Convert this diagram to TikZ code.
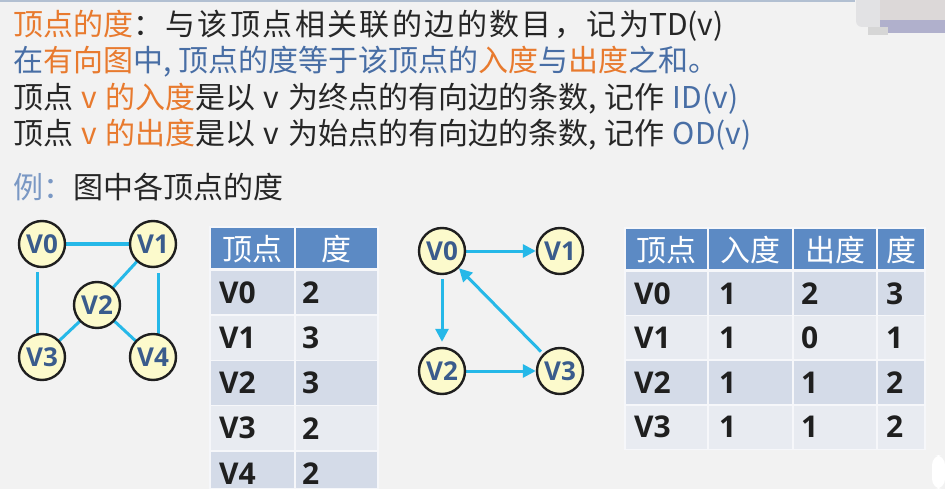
\documentclass[tikz,border=0pt]{standalone}
\usepackage{fontspec}
\setmainfont{Noto Sans CJK SC}
\newfontfamily\cjkwide[LetterSpace=8]{Noto Sans CJK SC}
\newfontfamily\latsans{Open Sans}
\usetikzlibrary{arrows.meta}
\definecolor{bgc}{RGB}{242,242,242}
\definecolor{topline}{RGB}{178,192,210}
\definecolor{org}{RGB}{232,122,46}
\definecolor{blu}{RGB}{72,110,165}
\definecolor{dk}{RGB}{38,38,38}
\definecolor{lib}{RGB}{122,152,196}
\definecolor{edgec}{RGB}{38,184,232}
\definecolor{nodef}{RGB}{252,250,204}
\definecolor{nodet}{RGB}{58,92,140}
\definecolor{hdr}{RGB}{92,138,196}
\definecolor{rowa}{RGB}{212,219,232}
\definecolor{rowb}{RGB}{232,235,241}
\definecolor{cellline}{RGB}{246,247,250}
\definecolor{artA}{RGB}{226,226,228}
\definecolor{artB}{RGB}{220,216,216}
\definecolor{artC}{RGB}{176,176,204}
\definecolor{artD}{RGB}{214,214,214}
\pgfdeclarelayer{bglayer}
\pgfdeclarelayer{edgelayer}
\pgfsetlayers{bglayer,edgelayer,main}
\begin{document}
\begin{tikzpicture}[x=1pt,y=-1pt,
  txt/.style={anchor=base west, inner sep=0pt, font=\fontsize{30}{36}\selectfont},
  vtx/.style={circle, minimum size=46pt, inner sep=0pt, fill=nodef, draw=black!88,
    line width=2.4pt, text=nodet, font=\latsans\bfseries\fontsize{26}{26}\selectfont},
  link/.style={draw=edgec, line width=3pt},
  arc/.style={link, -{Triangle[length=13pt,width=13pt]}},
  cellbox/.style={draw=cellline, line width=1.5pt},
  hdrtxt/.style={text=white, inner sep=0pt, font=\fontsize{30}{30}\selectfont},
  celltxt/.style={anchor=west, inner sep=0pt, text=black!88,
    font=\latsans\bfseries\fontsize{30}{30}\selectfont}]
\useasboundingbox (0,0) rectangle (945,489);
\begin{pgfonlayer}{bglayer}
  \fill[bgc] (0,0) rectangle (945,489);
  \draw[topline, line width=2pt] (0,1) -- (855,1);
  \fill[artA, rounded corners=6pt] (856,-8) rectangle (945,27);
  \fill[artB] (880,0) rectangle (945,20);
  \fill[artC] (880,20) rectangle (945,33);
  \fill[artD] (868,27) rectangle (888,35);
\end{pgfonlayer}

% text lines
\node[txt] (l1) at (13,35.5) {\textcolor{org}{顶点的度}{\cjkwide\textcolor{dk}{：与该顶点相关联的边的数目，记为}}\textcolor{dk}{TD(v)}};
\node[txt] (l2) at (13,71.5) {\textcolor{blu}{在}\textcolor{org}{有向图}\textcolor{blu}{中, 顶点的度等于该顶点的}\textcolor{org}{入度}\textcolor{blu}{与}\textcolor{org}{出度}\textcolor{blu}{之和。}};
\node[txt] (l3) at (13,109) {\textcolor{dk}{顶点}\hspace*{8pt}\textcolor{org}{v\hspace*{9pt}的入度}\textcolor{dk}{是以\hspace*{8pt}v\hspace*{9pt}为终点的有向边的条数,\hspace*{8pt}记作\hspace*{8pt}}\textcolor{blu}{ID(v)}};
\node[txt] (l4) at (13,144.5) {\textcolor{dk}{顶点}\hspace*{8pt}\textcolor{org}{v\hspace*{9pt}的出度}\textcolor{dk}{是以\hspace*{8pt}v\hspace*{9pt}为始点的有向边的条数,\hspace*{8pt}记作\hspace*{8pt}}\textcolor{blu}{OD(v)}};
\node[txt] (l5) at (13,199) {\textcolor{lib}{例：}\textcolor{dk}{图中各顶点的度}};

% undirected graph
\node[vtx] (a0) at (42,244) {V0};
\node[vtx] (a1) at (153,244) {V1};
\node[vtx] (a2) at (97,305) {V2};
\node[vtx] (a3) at (42,357) {V3};
\node[vtx] (a4) at (153,357) {V4};
\begin{pgfonlayer}{edgelayer}
  \draw[link] (a0.center) -- (a1.center);
  \draw[link] (a1.center) -- (a2.center);
  \draw[link] (a2.center) -- (a3.center);
  \draw[link] (a2.center) -- (a4.center);
  \draw[link] ([xshift=-5pt,yshift=-4pt]a0.south) -- ([xshift=-5pt]a3.center);
  \draw[link] ([xshift=5pt,yshift=-5pt]a1.south) -- ([xshift=5pt]a4.center);
\end{pgfonlayer}

% table 1
\draw[cellbox, fill=hdr] (210,227) rectangle (295,269);
\draw[cellbox, fill=hdr] (295,227) rectangle (378,269);
\node[hdrtxt] (t1h1) at (252.5,249) {顶点};
\node[hdrtxt] (t1h2) at (336.5,249) {度};
\foreach \i/\v/\d/\f in {0/V0/2/rowa,1/V1/3/rowb,2/V2/3/rowa,3/V3/2/rowb,4/V4/2/rowa} {
  \draw[cellbox, fill=\f] (210,{270+45.2*\i}) rectangle (295,{min(315.2+45.2*\i,489)});
  \draw[cellbox, fill=\f] (295,{270+45.2*\i}) rectangle (378,{min(315.2+45.2*\i,489)});
  \node[celltxt] (t1v\i) at (219,{292.6+45.2*\i}) {\v};
  \node[celltxt] (t1d\i) at (302,{292.6+45.2*\i}) {\d};
}

% directed graph
\node[vtx] (b0) at (442,251) {V0};
\node[vtx] (b1) at (560,251) {V1};
\node[vtx] (b2) at (442,371) {V2};
\node[vtx] (b3) at (560,371) {V3};
\begin{pgfonlayer}{edgelayer}
  \draw[arc] (b0) -- (b1);
  \draw[arc] ([yshift=-4pt]b0.south) -- ([yshift=5pt]b2.north);
  \draw[arc] (b2) -- (b3);
  \draw[arc, shorten <=3pt] (b3) -- (b0);
\end{pgfonlayer}

% table 2
\draw[cellbox, fill=hdr] (625,228) rectangle (708,270);
\draw[cellbox, fill=hdr] (708,228) rectangle (793,270);
\draw[cellbox, fill=hdr] (793,228) rectangle (877,270);
\draw[cellbox, fill=hdr] (877,228) rectangle (925,270);
\node[hdrtxt] (t2h1) at (666.5,250) {顶点};
\node[hdrtxt] (t2h2) at (750.5,250) {入度};
\node[hdrtxt] (t2h3) at (835,250) {出度};
\node[hdrtxt] (t2h4) at (901,250) {度};
\foreach \i/\v/\a/\b/\c/\f in {0/V0/1/2/3/rowa,1/V1/1/0/1/rowb,2/V2/1/1/2/rowa,3/V3/1/1/2/rowb} {
  \draw[cellbox, fill=\f] (625,{271+44.6*\i}) rectangle (708,{315.6+44.6*\i});
  \draw[cellbox, fill=\f] (708,{271+44.6*\i}) rectangle (793,{315.6+44.6*\i});
  \draw[cellbox, fill=\f] (793,{271+44.6*\i}) rectangle (877,{315.6+44.6*\i});
  \draw[cellbox, fill=\f] (877,{271+44.6*\i}) rectangle (925,{315.6+44.6*\i});
  \node[celltxt] (t2v\i) at (634,{293.3+44.6*\i}) {\v};
  \node[celltxt] (t2a\i) at (719,{293.3+44.6*\i}) {\a};
  \node[celltxt] (t2b\i) at (801,{293.3+44.6*\i}) {\b};
  \node[celltxt] (t2c\i) at (886,{293.3+44.6*\i}) {\c};
}

% corner piece
\fill[white, rounded corners=10pt] (932,455) -- (945,455) -- (945,489) -- (932,489) -- cycle;
\end{tikzpicture}
\end{document}
